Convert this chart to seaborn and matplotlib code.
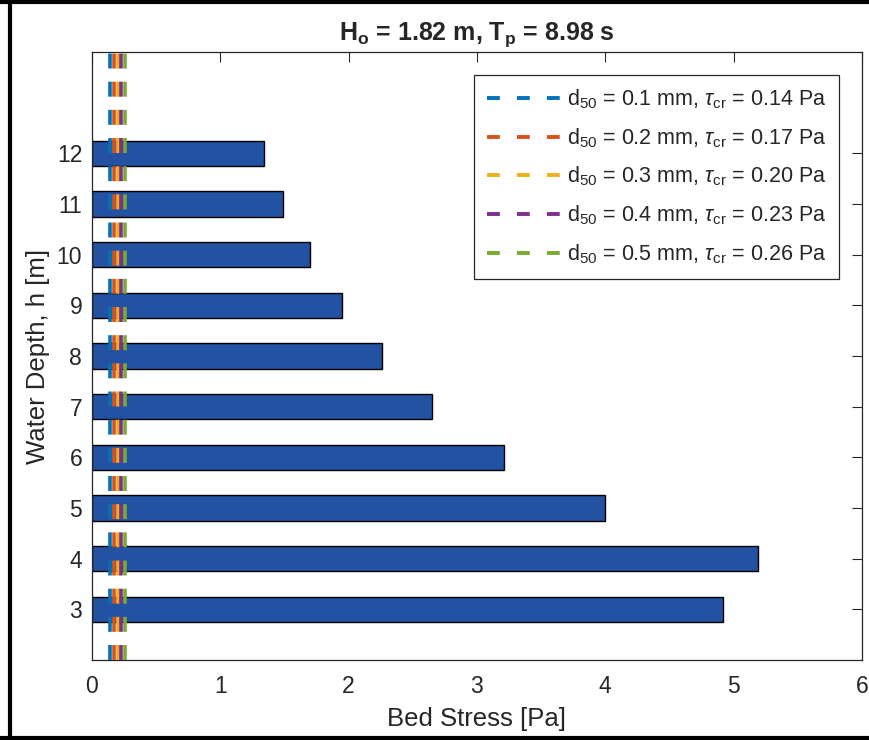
import numpy as np
import pandas as pd
import matplotlib
matplotlib.use("Agg")
import matplotlib.pyplot as plt
from matplotlib.lines import Line2D
import seaborn as sns

# data
depth = [3, 4, 5, 6, 7, 8, 9, 10, 11, 12]
bed_stress = [4.92, 5.19, 4.00, 3.21, 2.65, 2.26, 1.95, 1.70, 1.49, 1.34]
d50 = [0.1, 0.2, 0.3, 0.4, 0.5]
tau_cr = [0.14, 0.17, 0.20, 0.23, 0.26]
line_colors = ["#0072BD", "#D95319", "#EDB120", "#7E2F8E", "#77AC30"]
title_txt = r"H$_\mathbf{o}$ = 1.82 m, T$_\mathbf{p}$ = 8.98 s"

sns.set_style("white")
plt.rcParams['font.family'] = ['Liberation Sans', 'DejaVu Sans']
plt.rcParams['mathtext.fontset'] = 'custom'
plt.rcParams['mathtext.rm'] = 'Liberation Sans'
plt.rcParams['mathtext.it'] = 'Liberation Sans:italic'
plt.rcParams['mathtext.bf'] = 'Liberation Sans:bold'

df = pd.DataFrame({"depth": depth, "stress": bed_stress})

fig = plt.figure(figsize=(8.7, 7.4), dpi=100)
ax = fig.add_axes([0.1057, 0.1081, 0.885, 0.8216])

sns.barplot(data=df, x="stress", y="depth", orient="h", native_scale=True,
            width=0.5, color="#2452A3", saturation=1, edgecolor="black",
            linewidth=1.0, ax=ax, zorder=1)

handles = []
for d, t, c in zip(d50, tau_cr, line_colors):
    ax.axvline(t, color=c, lw=2.6, linestyle=(0, (4.15, 3.65)), zorder=3)
    lbl = r"d$_{50}$ = %.1f mm, $\tau_{\mathrm{cr}}$ = %.2f Pa" % (d, t)
    handles.append(Line2D([], [], color=c, lw=2.8, linestyle=(0, (3.3, 4.4)), label=lbl))

ax.set_xlim(0, 6)
ax.set_ylim(2, 14)
ax.set_xticks(range(0, 7))
ax.set_yticks(depth)
ax.set_xlabel("Bed Stress [Pa]", fontsize=18.5, color="#262626", labelpad=6)
ax.set_ylabel("Water Depth, h [m]", fontsize=18.5, color="#262626", labelpad=5)
ax.set_title(title_txt, fontsize=18, fontweight="bold", pad=9)

ax.tick_params(direction="in", length=7, width=0.8, top=True, right=True,
               labelsize=16.5, labelcolor="#262626", color="#262626")
ax.tick_params(axis="x", pad=11)
ax.tick_params(axis="y", pad=7)
for s in ax.spines.values():
    s.set_visible(True)
    s.set_color("#262626")
    s.set_linewidth(0.9)

leg = ax.legend(handles=handles, loc="upper right", fontsize=15.5,
                frameon=True, fancybox=False, framealpha=1, edgecolor="#262626",
                borderaxespad=1.05, handlelength=3.4, handletextpad=0.3,
                labelspacing=0.7, borderpad=0.6)
leg.get_frame().set_linewidth(0.9)

# black frame round the figure
fig.add_artist(Line2D([10 / 870, 10 / 870], [0, 1], color="black", lw=3, transform=fig.transFigure))
fig.add_artist(Line2D([0, 1], [1 - 2 / 740, 1 - 2 / 740], color="black", lw=3, transform=fig.transFigure))
fig.add_artist(Line2D([0, 1], [2 / 740, 2 / 740], color="black", lw=3, transform=fig.transFigure))

fig.savefig("out.png", dpi=100)
